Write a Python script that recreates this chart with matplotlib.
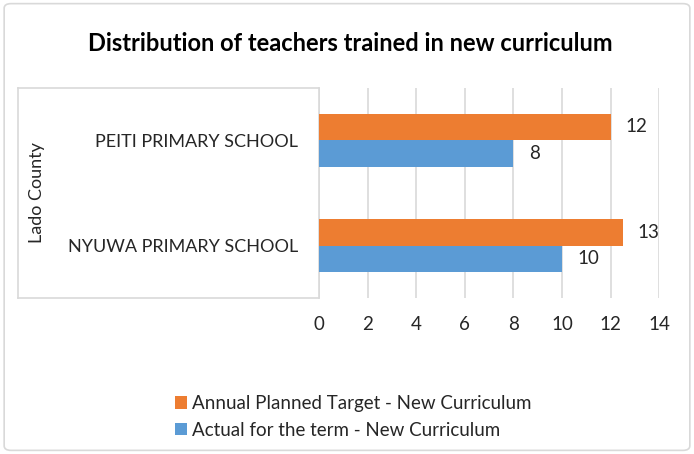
import matplotlib.pyplot as plt
import numpy as np
from matplotlib.lines import Line2D
from matplotlib.patches import FancyBboxPatch

plt.rcParams['font.family'] = ['Lato', 'DejaVu Sans']

# data
schools = ['NYUWA PRIMARY SCHOOL', 'PEITI PRIMARY SCHOOL']
target = [12.5, 12]
actual = [10, 8]
series_names = ['Annual Planned Target - New Curriculum', 'Actual for the term - New Curriculum']
county = 'Lado County'
xticks = [0, 2, 4, 6, 8, 10, 12, 14]

orange = '#ED7D31'
blue = '#5B9BD5'
grey = '#D9D9D9'
txt = '#262626'

fig = plt.figure(figsize=(6.94, 4.54), dpi=100)
ax = fig.add_axes([0.4597, 0.3436, 0.49, 0.4626])

y = np.arange(len(schools))
h = 0.257
b1 = ax.barh(y + h / 2, target, height=h, color=orange, label=series_names[0], zorder=3)
b2 = ax.barh(y - h / 2, actual, height=h, color=blue, label=series_names[1], zorder=3)

for bars, vals in [(b1, target), (b2, actual)]:
    for bar, v in zip(bars, vals):
        ax.annotate(str(int(v + 0.5)), (bar.get_width(), bar.get_y() + bar.get_height() / 2),
                    xytext=(11, 0), textcoords='offset points', ha='left', va='center',
                    fontsize=13.5, color=txt)

ax.set_xlim(0, 14)
ax.set_ylim(-0.5, 1.5)
ax.set_xticks(xticks)
ax.set_yticks(y)
ax.set_yticklabels(schools)
ax.tick_params(length=0, labelsize=13, colors=txt)
ax.tick_params(axis='x', labelsize=13.5, pad=13)
ax.tick_params(axis='y', pad=15)
ax.grid(axis='x', color=grey, linewidth=1.2, zorder=0)
for s in ['top', 'right', 'bottom']:
    ax.spines[s].set_visible(False)
ax.spines['left'].set_color(grey)
ax.spines['left'].set_linewidth(1.2)

# category label box
x0 = (18 / 694 - 0.4597) / 0.49
for yy in [0, 1]:
    ax.add_line(Line2D([x0, 0], [yy, yy], transform=ax.transAxes, color=grey, lw=1.2, clip_on=False))
ax.add_line(Line2D([x0, x0], [0, 1], transform=ax.transAxes, color=grey, lw=1.2, clip_on=False))
ax.text((37 / 694 - 0.4597) / 0.49, 0.5, county, transform=ax.transAxes, rotation=90,
        ha='center', va='center', fontsize=13, color=txt)

fig.suptitle('Distribution of teachers trained in new curriculum', x=0.505, y=0.93,
             fontsize=17, fontweight='bold', color='black')

fig.legend(handles=[b1, b2], loc='upper left', bbox_to_anchor=(0.238, 0.15), frameon=False,
           fontsize=13.5, handlelength=0.65, handleheight=0.65, handletextpad=0.3,
           labelspacing=0.5, borderpad=0, labelcolor=txt)

fig.patches.append(FancyBboxPatch((0.006, 0.008), 0.988, 0.984, boxstyle='round,pad=0,rounding_size=0.01',
                                  transform=fig.transFigure, fill=False, edgecolor=grey, lw=1.2))

fig.savefig('out.png', dpi=100)
